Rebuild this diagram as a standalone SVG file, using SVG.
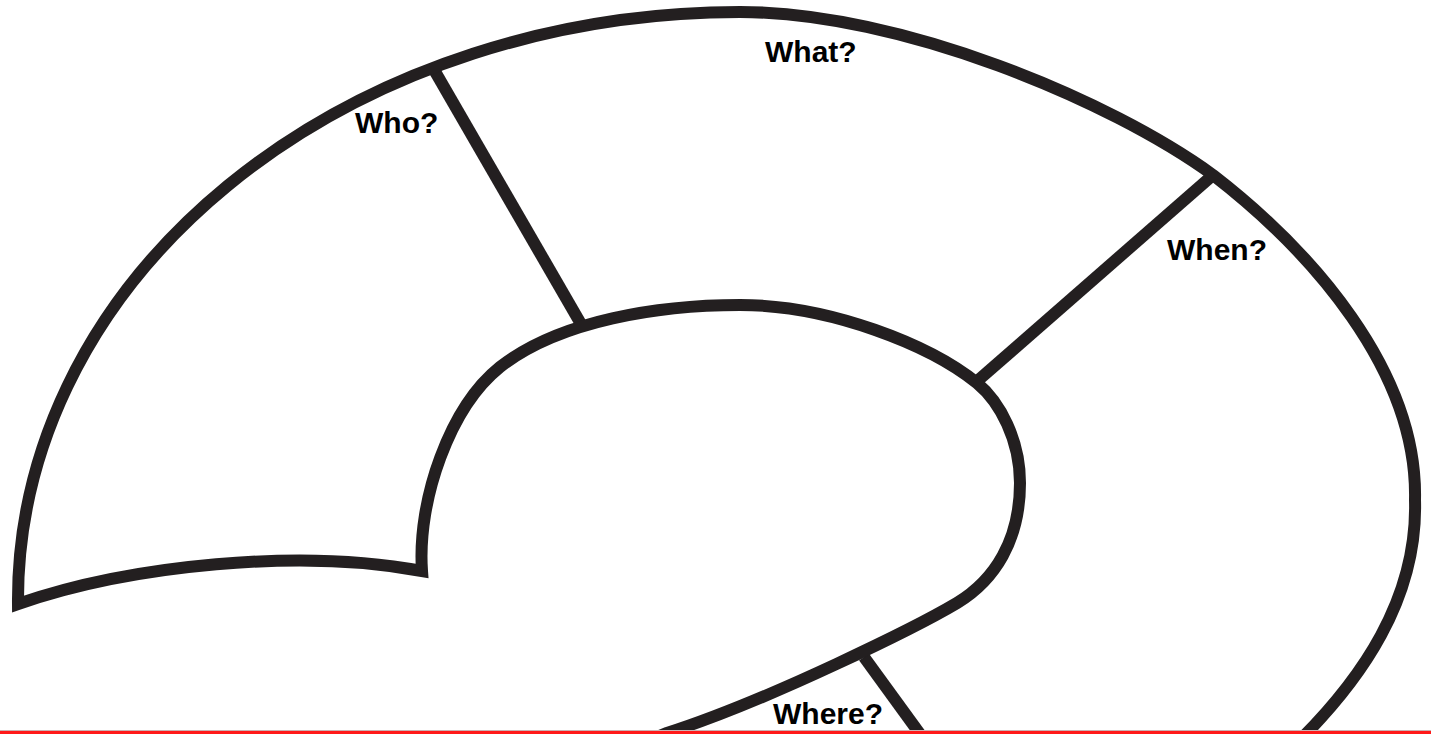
<svg xmlns="http://www.w3.org/2000/svg" width="1431" height="734" viewBox="0 0 1431 734">
  <style>
    .ln { fill: none; stroke: #231f20; stroke-width: 12; stroke-linejoin: miter; stroke-miterlimit: 10; stroke-linecap: butt; }
    .lbl { font-family: "Liberation Sans", Arial, sans-serif; font-weight: bold; font-size: 30px; fill: #000; }
  </style>
  <rect x="0" y="0" width="1431" height="734" fill="#ffffff"/>
  <g id="connectors">
    <line class="ln" x1="433" y1="68" x2="581" y2="324"/>
    <line class="ln" x1="1213" y1="175" x2="975" y2="383"/>
    <line class="ln" x1="864" y1="657" x2="928" y2="745"/>
  </g>
  <g id="question-mark">
    <path class="ln" d="M 1300,740 C 1360,680 1418,600 1415,500 C 1418,370 1310,250 1213,175 C 1110,100 900,12 740,12 A 722 588 0 0 0 18,604 C 130,565 300,548 422,571 C 417,500 450,407 500,367 C 560,320 660,305 740,305 C 830,305 930,345 977,383 C 1000,402 1020,440 1020,483 C 1020,540 995,580 957,603 C 920,625 770,700 667,733 L 630,748"/>
  </g>
  <g id="who"><text class="lbl" x="355" y="133">Who?</text></g>
  <g id="what"><text class="lbl" x="765" y="62">What?</text></g>
  <g id="when"><text class="lbl" x="1167" y="260">When?</text></g>
  <g id="where"><text class="lbl" x="773" y="724">Where?</text></g>
  <g id="baseline">
    <rect x="0" y="730" width="1431" height="1" fill="#c9b3b3"/>
    <rect x="0" y="731" width="1431" height="3" fill="#ff1a1a"/>
  </g>
</svg>
